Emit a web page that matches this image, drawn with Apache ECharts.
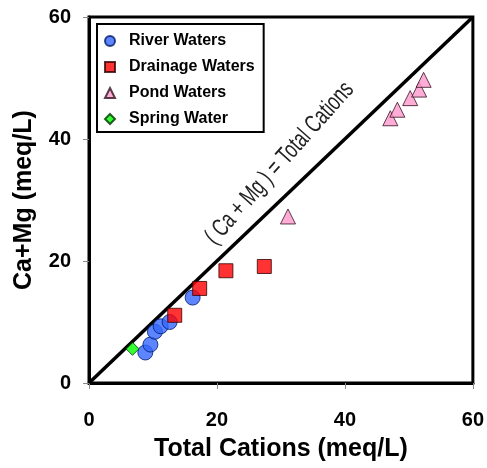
<!DOCTYPE html>
<html><head><meta charset="utf-8">
<script src="https://cdn.jsdelivr.net/npm/echarts@6/dist/echarts.min.js"></script>
<style>html,body{margin:0;padding:0;background:#fff}#c{width:487px;height:468px}</style>
</head><body><div id="c"></div>
<script>
const xTicks = [0, 20, 40, 60];
const yTicks = [0, 20, 40, 60];
const riverX = [8.8, 9.6, 10.3, 11.2, 12.6, 16.2];
const riverY = [5.0, 6.3, 8.4, 9.3, 10.0, 14.0];
const drainX = [13.4, 17.3, 21.4, 27.4];
const drainY = [11.1, 15.5, 18.4, 19.1];
const pondX = [31.1, 47.1, 48.2, 50.2, 51.6, 52.3];
const pondY = [27.3, 43.4, 44.8, 46.7, 48.1, 49.7];
const springX = [6.8];
const springY = [5.6];
const lineX = [0, 60];
const lineY = [0, 60];
const lineLabel = '( Ca + Mg ) = Total Cations';
const labelPos = [29.8, 36.0];

const zip = (a, b) => a.map((v, i) => [v, b[i]]);
const chart = echarts.init(document.getElementById('c'));
const bold = {fontFamily: 'Liberation Sans, Arial, sans-serif', fontWeight: 'bold', color: '#000'};
chart.setOption({
  animation: false,
  grid: {left: 89, right: 14, top: 17, bottom: 85, show: true, borderColor: '#000', borderWidth: 3, backgroundColor: '#fff'},
  legend: {
    left: 97, top: 24, orient: 'vertical', itemGap: 10, itemWidth: 10, itemHeight: 10,
    borderColor: '#000', borderWidth: 2, backgroundColor: '#fff', padding: [9, 9, 5, 7],
    textStyle: Object.assign({fontSize: 16, padding: [0, 0, 0, 9]}, bold),
    data: ['River Waters', 'Drainage Waters', 'Pond Waters', 'Spring Water']
  },
  xAxis: {
    type: 'value', min: xTicks[0], max: xTicks[xTicks.length - 1], interval: 20,
    name: 'Total Cations (meq/L)', nameLocation: 'middle', nameGap: 54,
    nameTextStyle: Object.assign({fontSize: 25}, bold),
    axisLine: {lineStyle: {color: '#000', width: 3}},
    axisTick: {show: true, length: 6, lineStyle: {color: '#888', width: 1}},
    axisLabel: Object.assign({fontSize: 20, margin: 27}, bold),
    splitLine: {show: false}
  },
  yAxis: {
    type: 'value', min: yTicks[0], max: yTicks[yTicks.length - 1], interval: 20,
    name: 'Ca+Mg (meq/L)', nameLocation: 'middle', nameGap: 52,
    nameTextStyle: Object.assign({fontSize: 25}, bold),
    axisLine: {lineStyle: {color: '#000', width: 3}},
    axisTick: {show: true, length: 6, lineStyle: {color: '#888', width: 1}},
    axisLabel: Object.assign({fontSize: 20, margin: 18}, bold),
    splitLine: {show: false}
  },
  series: [
    {type: 'line', data: zip(lineX, lineY), symbol: 'none', lineStyle: {color: '#000', width: 3.5}, silent: true, z: 1},
    {name: 'River Waters', type: 'scatter', data: zip(riverX, riverY), symbol: 'circle', symbolSize: 15,
     itemStyle: {color: '#3366FF', borderColor: '#001a66', borderWidth: 1}, z: 3},
    {name: 'Drainage Waters', type: 'scatter', data: zip(drainX, drainY), symbol: 'rect', symbolSize: 14,
     itemStyle: {color: '#FF0000', borderColor: '#330000', borderWidth: 1}, z: 3},
    {name: 'Pond Waters', type: 'scatter', data: zip(pondX, pondY), symbol: 'triangle', symbolSize: 15,
     itemStyle: {color: '#FF99CC', borderColor: '#331122', borderWidth: 1}, z: 3},
    {name: 'Spring Water', type: 'scatter', data: zip(springX, springY), symbol: 'diamond', symbolSize: 13,
     itemStyle: {color: '#00FF00', borderColor: '#003300', borderWidth: 1}, z: 4}
  ]
});
const p = chart.convertToPixel({gridIndex: 0}, labelPos);
chart.setOption({
  graphic: [{
    type: 'text', x: p[0], y: p[1], rotation: 0.84, scaleX: 0.7, z: 10,
    style: {text: lineLabel, align: 'center', verticalAlign: 'middle',
      font: '25px "Liberation Sans", Arial, sans-serif', fill: '#222'}
  }]
});
</script></body></html>
